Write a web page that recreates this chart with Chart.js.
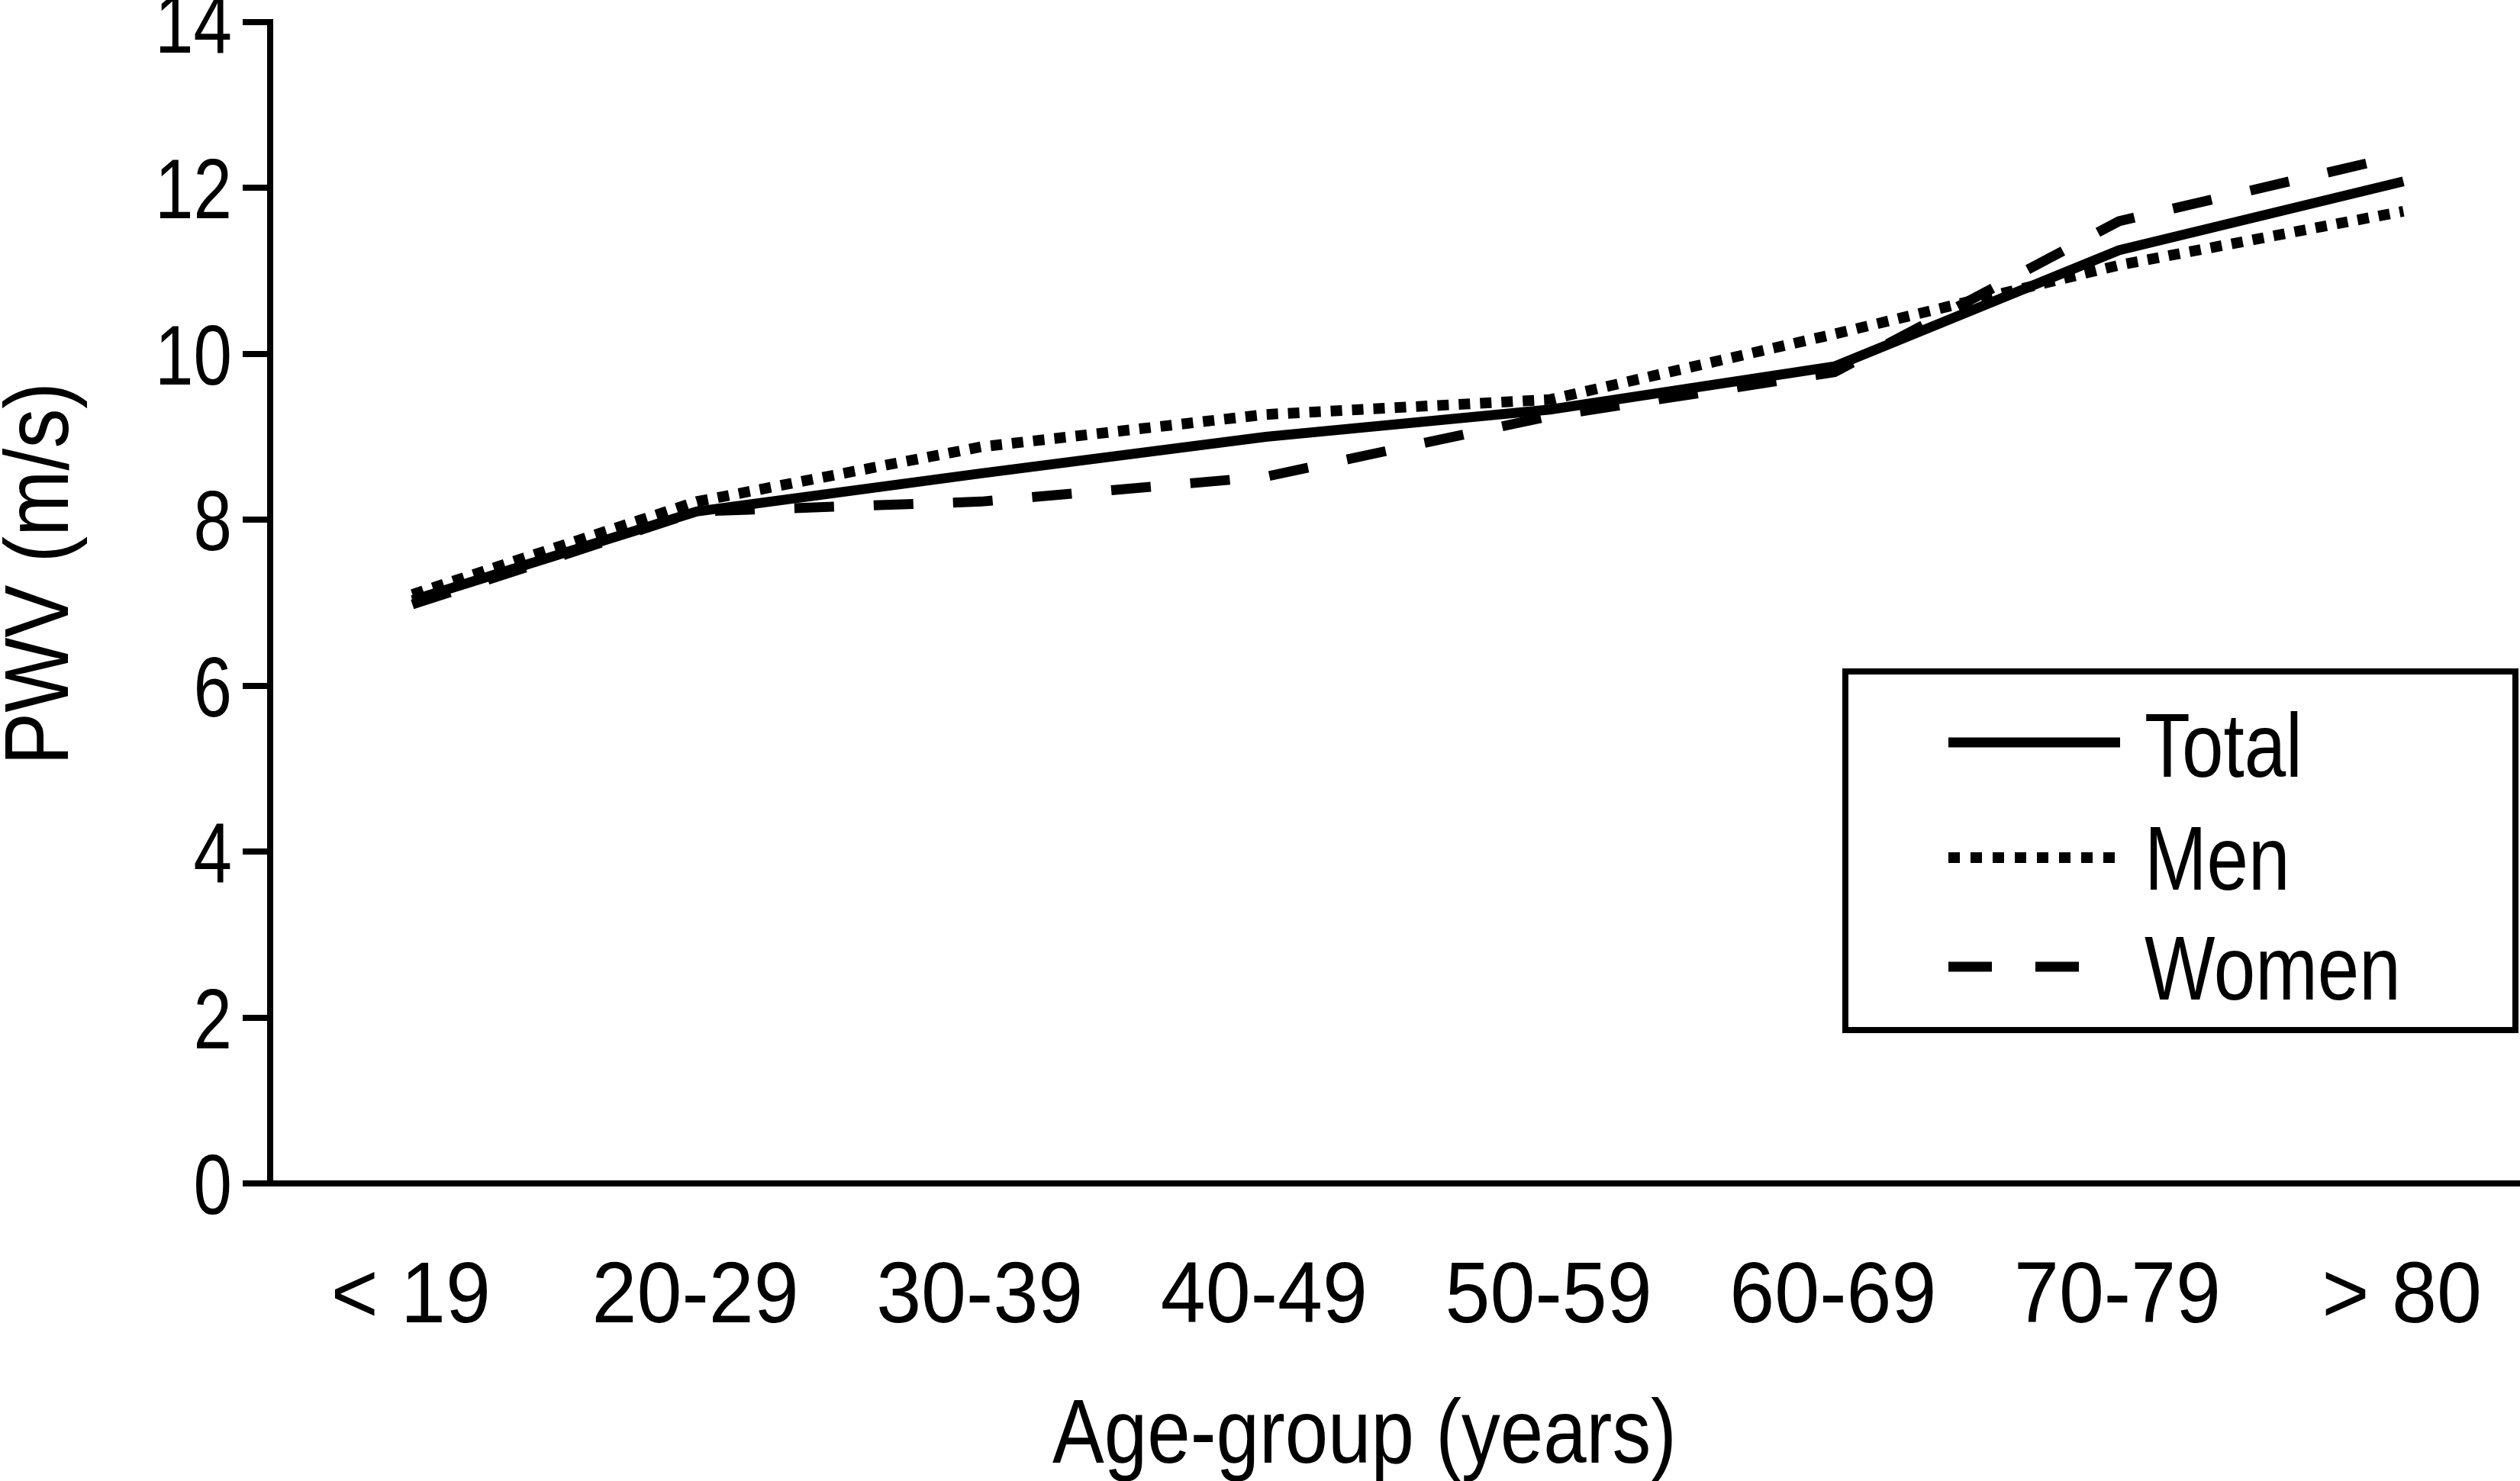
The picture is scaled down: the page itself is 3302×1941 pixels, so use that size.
<!DOCTYPE html>
<html>
<head>
<meta charset="utf-8">
<script src="https://cdn.jsdelivr.net/npm/chart.js@4/dist/chart.umd.min.js"></script>
<style>
  html, body { margin: 0; padding: 0; background: #fff; overflow: hidden; }
  #wrap { width: 3302px; height: 1941px; }
</style>
</head>
<body>
<div id="wrap"><canvas id="pwv-chart" width="3302" height="1941"></canvas></div>
<script>
const ageGroups = ['< 19', '20-29', '30-39', '40-49', '50-59', '60-69', '70-79', '> 80'];
const totalPwv = [7.03, 8.10, 8.56, 9.00, 9.33, 9.85, 11.25, 12.08];
const menPwv   = [7.10, 8.22, 8.88, 9.27, 9.45, 10.24, 11.07, 11.72];
const womenPwv = [6.98, 8.10, 8.22, 8.52, 9.25, 9.78, 11.60, 12.40];
const yTicks = [0, 2, 4, 6, 8, 10, 12, 14];

const FONT = "'Liberation Sans', Arial, Helvetica, sans-serif";

function toPoints(values) {
  return values.map((v, i) => ({ x: i, y: v }));
}

// the original uses a condensed face; squeeze Liberation Sans horizontally instead
function squeezedText(ctx, text, x, y, squeeze) {
  const w = ctx.measureText(text).width;
  ctx.fillText(text, x, y, w * squeeze);
}

// tick labels, axis titles and the boxed legend
const figureText = {
  id: 'figureText',
  afterDraw(chart) {
    const ctx = chart.ctx;
    const xs = chart.scales.x;
    const ys = chart.scales.y;
    ctx.save();
    ctx.fillStyle = '#000';
    ctx.textBaseline = 'alphabetic';

    // y tick labels
    ctx.font = '112px ' + FONT;
    ctx.textAlign = 'right';
    yTicks.forEach(v => {
      squeezedText(ctx, String(v), 304, ys.getPixelForValue(v) + 40, 0.81);
    });

    // x tick labels
    ctx.font = '114px ' + FONT;
    ctx.textAlign = 'center';
    ageGroups.forEach((g, i) => {
      squeezedText(ctx, g, xs.getPixelForValue(i) - 2, 1733, 0.93);
    });

    // axis titles
    ctx.font = '118px ' + FONT;
    squeezedText(ctx, 'Age-group (years)', 1788, 1917, 0.86);
    ctx.save();
    ctx.translate(89, 752);
    ctx.rotate(-Math.PI / 2);
    squeezedText(ctx, 'PWV (m/s)', 0, 0, 0.88);
    ctx.restore();

    // legend
    ctx.strokeStyle = '#000';
    ctx.lineWidth = 8;
    ctx.strokeRect(2418, 880, 878, 470);
    const lineRows = [973, 1124, 1267];
    const textRows = [1018, 1166, 1310];
    chart.data.datasets.forEach((ds, i) => {
      ctx.beginPath();
      ctx.lineWidth = ds.borderWidth;
      ctx.lineCap = 'butt';
      ctx.setLineDash(ds.legendDash || []);
      ctx.moveTo(2553, lineRows[i]);
      ctx.lineTo(2778, lineRows[i]);
      ctx.stroke();
      ctx.setLineDash([]);

      ctx.font = '118px ' + FONT;
      ctx.textAlign = 'left';
      squeezedText(ctx, ds.label, 2810, textRows[i], 0.83);
    });
    ctx.restore();
  }
};

const ctx = document.getElementById('pwv-chart').getContext('2d');
const chart = new Chart(ctx, {
  type: 'line',
  data: {
    datasets: [
      {
        label: 'Total',
        data: toPoints(totalPwv),
        borderColor: '#000',
        borderWidth: 13,
        pointRadius: 0,
        tension: 0
      },
      {
        label: 'Men',
        data: toPoints(menPwv),
        borderColor: '#000',
        borderWidth: 14,
        borderDash: [15, 13],
        legendDash: [15, 14],
        pointRadius: 0,
        tension: 0
      },
      {
        label: 'Women',
        data: toPoints(womenPwv),
        borderColor: '#000',
        borderWidth: 13,
        borderDash: [52, 52],
        legendDash: [57, 57],
        pointRadius: 0,
        tension: 0
      }
    ]
  },
  options: {
    responsive: false,
    devicePixelRatio: 1,
    animation: false,
    layout: { padding: { top: 29, right: 0, bottom: 0, left: 0 } },
    plugins: {
      legend: { display: false },
      tooltip: { enabled: false }
    },
    scales: {
      x: {
        type: 'linear',
        min: -0.5,
        max: 7.41,
        afterBuildTicks: scale => {
          scale.ticks = ageGroups.map((_, i) => ({ value: i }));
        },
        afterFit: scale => {
          scale.height = 390;
          scale.paddingLeft = 0;
          scale.paddingRight = 0;
        },
        grid: { display: false },
        border: { display: true, color: '#000', width: 8 },
        ticks: { display: false }
      },
      y: {
        min: 0,
        max: 14,
        afterBuildTicks: scale => {
          scale.ticks = yTicks.map(v => ({ value: v }));
        },
        afterFit: scale => {
          scale.width = 354;
          scale.paddingTop = 0;
          scale.paddingBottom = 0;
        },
        grid: {
          drawOnChartArea: false,
          drawTicks: true,
          tickLength: 36,
          color: '#000',
          lineWidth: 8
        },
        border: { display: true, color: '#000', width: 8 },
        ticks: { display: false }
      }
    }
  },
  plugins: [figureText]
});
</script>
</body>
</html>
